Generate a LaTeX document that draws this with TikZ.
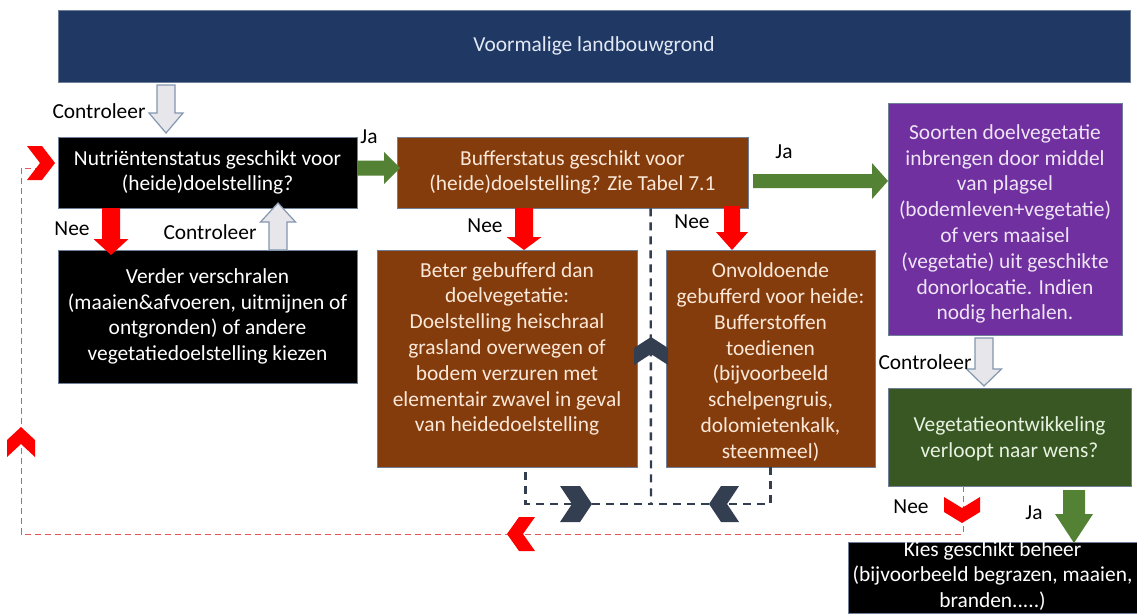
\documentclass[tikz,border=0pt]{standalone}
\usepackage{fontspec}
\setmainfont{Carlito}
\usetikzlibrary{calc}
\definecolor{banner}{HTML}{203864}
\definecolor{brownc}{HTML}{843C0C}
\definecolor{purplec}{HTML}{7030A0}
\definecolor{greenbox}{HTML}{385723}
\definecolor{greenarr}{HTML}{548235}
\definecolor{redarr}{HTML}{FF0000}
\definecolor{grayfill}{HTML}{E7E6EA}
\definecolor{grayline}{HTML}{8497B0}
\definecolor{darkchev}{HTML}{333F50}
\definecolor{reddashc}{HTML}{E05858}
\definecolor{boxline}{HTML}{6F7F98}
\definecolor{browntext}{HTML}{FBE8D8}
\definecolor{purpletext}{HTML}{EEE4F6}
\definecolor{greentext}{HTML}{E8F2E0}
\definecolor{bannertext}{HTML}{E2E9F5}
% block arrow pointing down (or up): x, y-start, y-tip, shaft half width, head half width, y head start, style
\newcommand{\blkvert}[7]{\path[#7] ({#1-#4},#2) -- ({#1+#4},#2) -- ({#1+#4},#6) -- ({#1+#5},#6) -- (#1,#3) -- ({#1-#5},#6) -- ({#1-#4},#6) -- cycle;}
% block arrow pointing right: y, x-start, x-tip, shaft half, head half, x head start, style
\newcommand{\blkhorz}[7]{\path[#7] (#2,{#1-#4}) -- (#6,{#1-#4}) -- (#6,{#1-#5}) -- (#3,#1) -- (#6,{#1+#5}) -- (#6,{#1+#4}) -- (#2,{#1+#4}) -- cycle;}
% chevron: cx, cy, angle, half length, half height, notch depth, style
\newcommand{\chevshape}[7]{\path[#7, shift={(#1,#2)}, rotate=#3] (-#4,-#5) -- ({#4-#6},-#5) -- (#4,0) -- ({#4-#6},#5) -- (-#4,#5) -- ({-#4+#6},0) -- cycle;}
\begin{document}
\begin{tikzpicture}[x=1pt,y=-1pt,
  txt/.style={font=\fontsize{21.4}{25.8}\selectfont, align=center, inner sep=0pt},
  lbl/.style={font=\fontsize{21.4}{25.8}\selectfont, inner sep=0pt, text=black},
  boxbase/.style={draw=boxline, line width=0.8pt, inner sep=0pt, align=center,
    font=\fontsize{21.4}{25.8}\selectfont},
  blackbox/.style={boxbase, fill=black, text=white},
  brownbox/.style={boxbase, fill=brownc, text=browntext},
  redfill/.style={fill=redarr},
  greenfill/.style={fill=greenarr},
  grayarr/.style={fill=grayfill, draw=grayline, line width=1.2pt},
  redchev/.style={fill=redarr},
  darkc/.style={fill=darkchev},
  reddash/.style={draw=reddashc, line width=1pt, dash pattern=on 6pt off 4pt},
  darkdash/.style={draw=darkchev, line width=2.4pt, dash pattern=on 8pt off 6pt}
]
\useasboundingbox (0,0) rectangle (1137,613);
\fill[white] (0,0) rectangle (1137,613);

% boxes
\node[boxbase, fill=banner, text=bannertext, minimum width=1072, minimum height=72] (top) at (594,46) {Voormalige landbouwgrond};
\node[blackbox, minimum width=299, minimum height=71] (n1) at (207.5,172.5) {Nutriëntenstatus geschikt voor\\(heide)doelstelling?};
\node[blackbox, minimum width=299, minimum height=133] (n2) at (207.5,316.5) {Verder verschralen\\(maaien\&afvoeren, uitmijnen of\\ontgronden) of andere\\vegetatiedoelstelling kiezen};
\node[brownbox, minimum width=351, minimum height=71] (b3) at (572.5,172.5) {Bufferstatus geschikt voor\\(heide)doelstelling? Zie Tabel 7.1};
\node[brownbox, minimum width=260, minimum height=217] (b5) at (507,358.5) {};
\node[txt, text=browntext] (b5t) at (507,349) {Beter gebufferd dan\\doelvegetatie:\\Doelstelling heischraal\\grasland overwegen of\\bodem verzuren met\\elementair zwavel in geval\\van heidedoelstelling};
\node[brownbox, minimum width=209, minimum height=217] (b6) at (770.5,358.5) {};
\node[txt, text=browntext] (b6t) at (770.5,362) {Onvoldoende\\gebufferd voor heide:\\Bufferstoffen\\toedienen\\(bijvoorbeeld\\schelpengruis,\\dolomietenkalk,\\steenmeel)};
\node[boxbase, fill=purplec, minimum width=234, minimum height=232] (p4) at (1005,219) {};
\node[txt, text=purpletext] (p4t) at (1005,224) {Soorten doelvegetatie\\inbrengen door middel\\van plagsel\\(bodemleven+vegetatie)\\of vers maaisel\\(vegetatie) uit geschikte\\donorlocatie. Indien\\nodig herhalen.};
\node[boxbase, fill=greenbox, minimum width=243, minimum height=98] (g7) at (1009.5,437) {};
\node[txt, text=greentext] (g7t) at (1009.5,439) {Vegetatieontwikkeling\\verloopt naar wens?};
\node[blackbox, minimum width=289, minimum height=71] (k8) at (992.5,577.5) {};
\node[txt, text=white] (k8t) at (992.5,576) {Kies geschikt beheer\\(bijvoorbeeld begrazen, maaien,\\branden.....)};

% dashed feedback connectors
\coordinate (rl) at (21,534);
\coordinate (rt) at (21,168);
\coordinate (rchev) at (36,168);
\draw[reddash] ($(g7.south west)+(76,0)$) |- (rl) -- (rt) -- (rchev);
\coordinate (dmid) at (651,504);
\draw[darkdash] ($(b3.south west)+(254,0)$) -- (dmid);
\draw[darkdash] ($(b5.south west)+(149,5)$) |- (dmid);
\draw[darkdash] ($(b6.south)$) |- (dmid);

% block arrows
\blkvert{166}{85}{133}{9}{17}{113}{grayarr}
\blkvert{278}{250}{203}{9}{17.5}{222}{grayarr}
\blkvert{984}{338}{386}{9}{17.5}{369}{grayarr}
\blkvert{111}{208}{255}{9}{17.5}{239}{redfill}
\blkvert{524}{208}{250}{9}{17.5}{237}{redfill}
\blkvert{732}{206}{250}{8}{16}{232}{redfill}
\blkvert{1074}{490}{543}{11}{19}{514}{greenfill}
\blkhorz{168}{357}{400}{7.5}{16}{384}{greenfill}
\blkhorz{181}{753}{888}{7}{18}{872}{greenfill}

% chevrons
\chevshape{41}{163}{0}{14}{17}{13}{redchev}
\chevshape{21}{442}{90}{15}{14}{13}{redchev}
\chevshape{521}{534}{180}{14}{17}{12}{redchev}
\chevshape{962}{510}{-90}{13}{18}{11}{redchev}
\chevshape{651}{351}{90}{14}{17}{11}{darkc}
\chevshape{576}{504}{0}{16}{18}{12}{darkc}
\chevshape{724}{504}{180}{15}{18}{12}{darkc}

% labels
\node[lbl] (l1) at (99,111) {Controleer};
\node[lbl] (l2) at (72,229) {Nee};
\node[lbl] (l3) at (210,232) {Controleer};
\node[lbl] (l4) at (369,137) {Ja};
\node[lbl] (l5) at (485,226) {Nee};
\node[lbl] (l6) at (692,222) {Nee};
\node[lbl] (l7) at (784,152) {Ja};
\node[lbl] (l8) at (925,362) {Controleer};
\node[lbl] (l9) at (911,507) {Nee};
\node[lbl] (l10) at (1034,513) {Ja};
\end{tikzpicture}
\end{document}
